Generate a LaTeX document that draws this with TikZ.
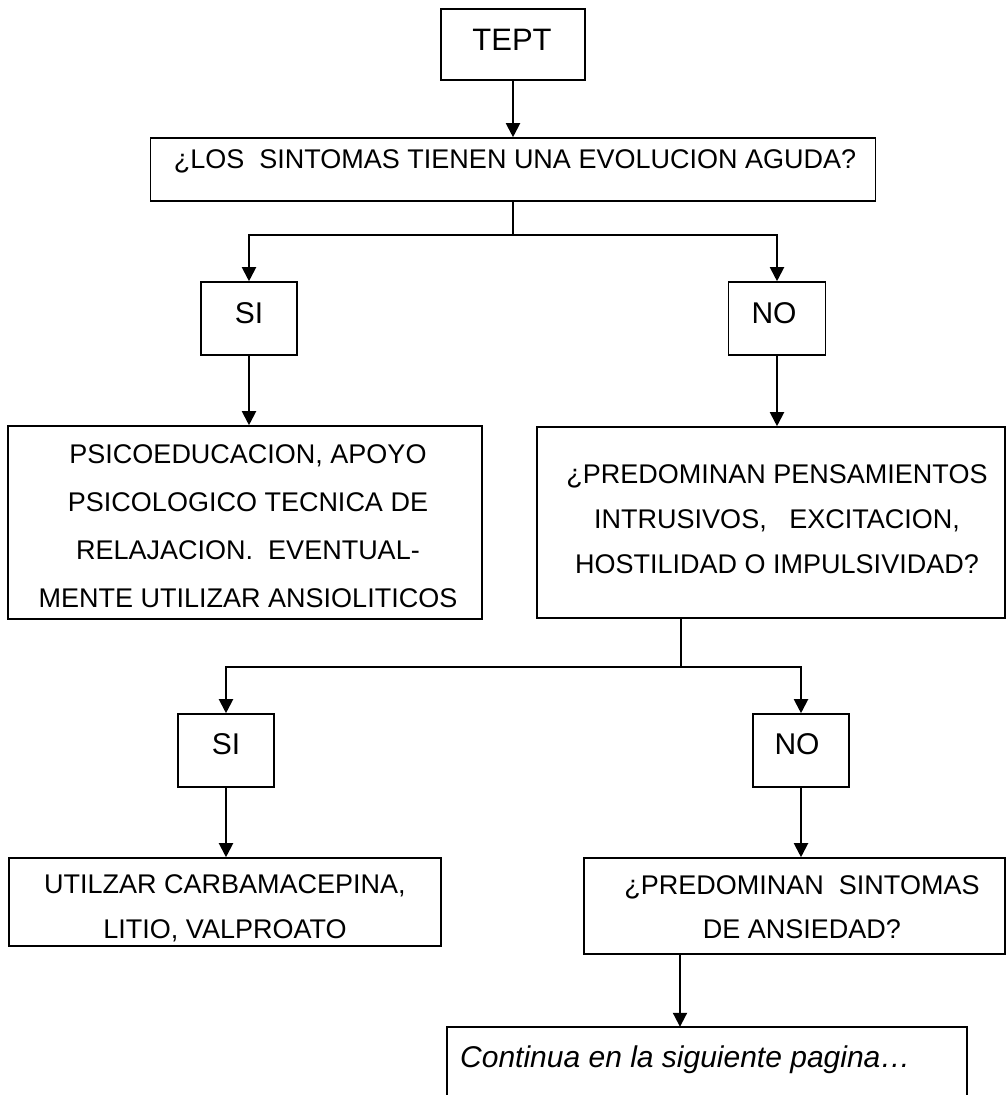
\documentclass[tikz,border=0pt]{standalone}
\usepackage{fontspec}
\setmainfont{Liberation Sans}
\usetikzlibrary{arrows.meta}
\begin{document}
\begin{tikzpicture}[x=1pt,y=-1pt,
  box/.style={draw, line width=1.6pt, inner sep=0pt},
  conn/.style={line width=2pt},
  arr/.style={conn, -{Triangle[length=14pt,width=14pt]}},
  txt/.style={inner sep=0pt, anchor=base, align=center, font=\fontsize{27}{45}\selectfont},
  big/.style={inner sep=0pt, anchor=base, font=\fontsize{31}{36}\selectfont}]
\useasboundingbox (0,0) rectangle (1006,1095);

% boxes
\node[box, minimum width=144pt, minimum height=71pt] (tept) at (513,44.5) {};
\node[box, minimum width=725pt, minimum height=63pt] (q1) at (513,169.5) {};
\node[box, minimum width=96pt, minimum height=73pt] (si1) at (249,318.5) {};
\node[box, minimum width=97pt, minimum height=73pt] (no1) at (777,318.5) {};
\node[box, minimum width=474pt, minimum height=193pt] (psico) at (245,522.5) {};
\node[box, minimum width=468pt, minimum height=191pt] (q2) at (771,522.5) {};
\node[box, minimum width=96pt, minimum height=73pt] (si2) at (226,750.5) {};
\node[box, minimum width=96pt, minimum height=73pt] (no2) at (801,750.5) {};
\node[box, minimum width=432pt, minimum height=88pt] (util) at (225,902) {};
\node[box, minimum width=421pt, minimum height=96pt] (pred) at (794.5,906) {};
\node[inner sep=0pt, minimum width=520pt, minimum height=100pt] (cont) at (707,1077) {};
\draw[line width=1.6pt] (cont.south west) -- (cont.north west) -- (cont.north east) -- (cont.south east);

% texts (multi-line nodes sit on the baseline of their last line)
\node[big] (teptT) at (512,50) {TEPT};
\node[txt] (q1T) at (515,168) {¿LOS\ \ SINTOMAS TIENEN UNA EVOLUCION AGUDA?};
\node[big, font=\fontsize{30}{36}\selectfont] (si1T) at (249,323) {SI};
\node[big, font=\fontsize{30}{36}\selectfont] (no1T) at (774,323) {NO};
\node[txt, font=\fontsize{27}{48}\selectfont] (psicoT) at (248,607)
  {PSICOEDUCACION, APOYO\\PSICOLOGICO TECNICA DE\\RELAJACION.\ \ EVENTUAL-\\MENTE UTILIZAR ANSIOLITICOS};
\node[txt] (q2T) at (777,573)
  {¿PREDOMINAN PENSAMIENTOS\\INTRUSIVOS,\ \ \ EXCITACION,\\HOSTILIDAD O IMPULSIVIDAD?};
\node[big, font=\fontsize{30}{36}\selectfont] (si2T) at (226,754) {SI};
\node[big, font=\fontsize{30}{36}\selectfont] (no2T) at (797,754) {NO};
\node[txt] (utilT) at (225,938) {UTILZAR CARBAMACEPINA,\\LITIO, VALPROATO};
\node[txt, font=\fontsize{27}{44}\selectfont] (predT) at (802,938) {¿PREDOMINAN\ \ SINTOMAS\\DE ANSIEDAD?};
\node[inner sep=0pt, anchor=base west, font=\fontsize{30}{36}\selectfont\itshape] (contT) at (460,1067)
  {Continua en la siguiente pagina…};

% connectors
\draw[arr] (tept.south) -- (q1.north);
\path (q1.south) ++(0,33) coordinate (j1);
\draw[conn] (q1.south) -- (j1);
\draw[arr] (j1) -| (si1.north);
\draw[arr] (j1) -| (no1.north);
\draw[arr] (si1.south) -- (si1.south |- psico.north);
\draw[arr] (no1.south) -- (no1.south |- q2.north);
\coordinate (q2b) at (q2.south -| 681,0);
\path (q2b) ++(0,48) coordinate (j2);
\draw[conn] (q2b) -- (j2);
\draw[arr] (j2) -| (si2.north);
\draw[arr] (j2) -| (no2.north);
\draw[arr] (si2.south) -- (si2.south |- util.north);
\draw[arr] (no2.south) -- (no2.south |- pred.north);
\draw[arr] (pred.south -| 680,0) -- (cont.north -| 680,0);
\end{tikzpicture}
\end{document}
